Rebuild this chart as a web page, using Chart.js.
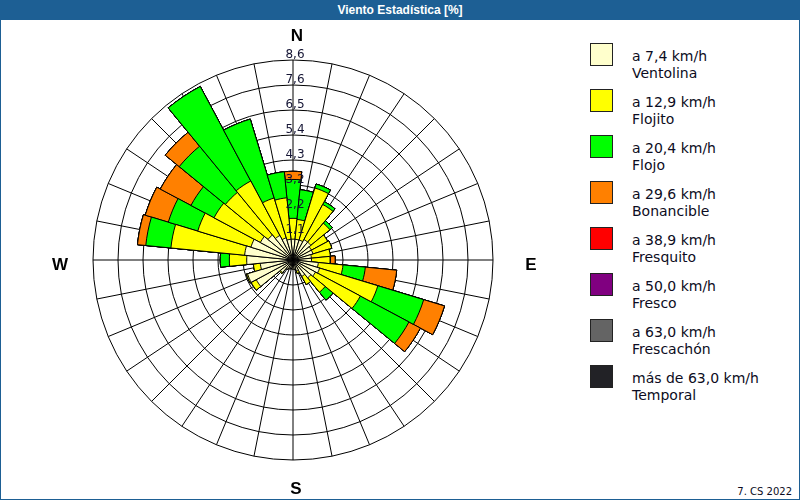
<!DOCTYPE html>
<html>
<head>
<meta charset="utf-8">
<script src="https://cdn.jsdelivr.net/npm/chart.js@4.4.0/dist/chart.umd.min.js"></script>
<style>
  body { margin: 0; background: #fff; }
  #marco { position: relative; width: 800px; height: 500px; overflow: hidden; background: #fff; font-family: "DejaVu Sans", sans-serif; }
  #titulo { position: absolute; left: 0; top: 0; width: 800px; height: 20px; background: #1d5f94; color: #fff;
            font: bold 12px "Liberation Sans Narrow", "Liberation Sans", sans-serif; text-align: center; line-height: 20px; }
  #borde { position: absolute; left: 0; top: 0; width: 798px; height: 498px; border: 1px solid #1d5f94; pointer-events: none; }
  #grafico { position: absolute; left: 0; top: 20px; }
  #leyenda { position: absolute; left: 590px; top: 43px; }
  .item { position: relative; height: 46px; }
  .caja { position: absolute; left: 0; top: 0; width: 21px; height: 21px; border: 1px solid #222; }
  .txt { position: absolute; left: 42px; top: 5px; font-size: 14px; line-height: 17.3px; color: #0c0c22; white-space: nowrap; }
  #pie { position: absolute; right: 8px; bottom: 3px; font-size: 10px; color: #0c0c22; }
</style>
</head>
<body>
<div id="marco">
  <div id="titulo">Viento Estadística [%]</div>
  <canvas id="grafico" width="560" height="480"></canvas>
  <div id="leyenda"></div>
  <div id="pie">7. CS 2022</div>
  <div id="borde"></div>
</div>
<script>
// 32 direcciones, desde N en sentido horario
const direcciones = ["N", "NxE", "NNE", "NExN", "NE", "NExE", "ENE", "ExN",
  "E", "ExS", "ESE", "SExE", "SE", "SExS", "SSE", "SxE",
  "S", "SxW", "SSW", "SWxS", "SW", "SWxW", "WSW", "WxS",
  "W", "WxN", "WNW", "NWxW", "NW", "NWxN", "NNW", "NxW"];

const ventolina  = [0.9, 0.9, 0.9, 1.0, 1.0, 0.9, 0.9, 0.8, 0.8, 1.1, 1.2, 1.1, 1.0, 0.8, 0.5, 0.4,
                    0.4, 0.35, 0.4, 0.45, 0.7, 1.8, 2.05, 1.42, 2.0, 2.1, 1.9, 1.6, 1.4, 1.2, 1.0, 0.9];
const flojito    = [0.9, 0.86, 2.35, 1.72, 1.06, 0.8, 0.85, 0.82, 0.8, 1.07, 2.63, 2.2, 0.8, 0.4, 0.1, 0,
                    0, 0, 0, 0, 0.05, 0.25, 0.05, 0.3, 0.75, 3.2, 2.4, 2.27, 2.38, 2.67, 1.8, 1.8];
const flojo      = [1.68, 1.29, 0.18, 0.14, 0.14, 0, 0, 0, 0.02, 0.97, 2.07, 2.38, 0.44, 0, 0, 0,
                    0, 0, 0, 0, 0, 0, 0, 0, 0.39, 1.09, 1.33, 1.13, 2.58, 4.63, 3.56, 1.13];
const bonancible = [0.35, 0, 0, 0, 0, 0, 0, 0, 0.2, 1.36, 0.94, 0.56, 0, 0, 0, 0,
                    0, 0, 0, 0, 0, 0, 0, 0, 0, 0.36, 1.04, 1.5, 0.78, 0, 0, 0];
const fresquito  = [0, 0, 0, 0, 0, 0, 0, 0, 0, 0, 0, 0, 0, 0, 0, 0, 0, 0, 0, 0, 0, 0, 0, 0, 0, 0, 0, 0, 0, 0, 0, 0];
const fresco     = [0, 0, 0, 0, 0, 0, 0, 0, 0, 0, 0, 0, 0, 0, 0, 0, 0, 0, 0, 0, 0, 0, 0, 0, 0, 0, 0, 0, 0, 0, 0, 0];
const frescachon = [0, 0, 0, 0, 0, 0, 0, 0, 0, 0, 0, 0, 0, 0, 0, 0, 0, 0, 0, 0, 0, 0, 0, 0, 0, 0, 0, 0, 0, 0, 0, 0];
const temporal   = [0, 0, 0, 0, 0, 0, 0, 0, 0, 0, 0, 0, 0, 0, 0, 0, 0, 0, 0, 0, 0, 0, 0, 0, 0, 0, 0, 0, 0, 0, 0, 0];

const rangos  = ["a 7,4 km/h", "a 12,9 km/h", "a 20,4 km/h", "a 29,6 km/h", "a 38,9 km/h", "a 50,0 km/h", "a 63,0 km/h", "más de 63,0 km/h"];
const nombres = ["Ventolina", "Flojito", "Flojo", "Bonancible", "Fresquito", "Fresco", "Frescachón", "Temporal"];
const colores = ["#ffffcc", "#ffff00", "#00ff00", "#ff8000", "#ff0000", "#800080", "#646464", "#222226"];

const escalaMax = 8.64;
const etiquetasEscala = ["1,1", "2,2", "3,2", "4,3", "5,4", "6,5", "7,6", "8,6"];

// leyenda
const leyenda = document.getElementById("leyenda");
nombres.forEach((n, i) => {
  leyenda.innerHTML += `<div class="item"><div class="caja" style="background:${colores[i]}"></div>
    <div class="txt">${rangos[i]}<br>${n}</div></div>`;
});

// apilado: cada serie se dibuja acumulada, la primera encima
const categorias = [ventolina, flojito, flojo, bonancible, fresquito, fresco, frescachon, temporal];
let acumulado = direcciones.map(() => 0);
const datasets = categorias.map((serie, j) => {
  acumulado = acumulado.map((v, i) => v + serie[i]);
  return {
    label: nombres[j],
    data: acumulado.slice(),
    backgroundColor: colores[j],
    borderColor: "#000",
    borderWidth: 1
  };
});

const rosaPlugin = {
  id: "rosa",
  beforeDatasetsDraw(chart) {
    const s = chart.scales.r, ctx = chart.ctx;
    const n = chart.data.labels.length;
    ctx.save();
    ctx.strokeStyle = "#000";
    ctx.lineWidth = 1;
    ctx.beginPath();
    for (let i = 0; i < n; i++) {
      const a = i * 2 * Math.PI / n - Math.PI / 2;
      ctx.moveTo(s.xCenter, s.yCenter);
      ctx.lineTo(s.xCenter + Math.cos(a) * s.drawingArea, s.yCenter + Math.sin(a) * s.drawingArea);
    }
    ctx.stroke();
    ctx.restore();
  },
  afterDatasetsDraw(chart) {
    const s = chart.scales.r, ctx = chart.ctx;
    const R = s.drawingArea;
    ctx.save();
    ctx.fillStyle = "#141434";
    ctx.font = "12px 'DejaVu Sans'";
    ctx.textAlign = "center";
    ctx.textBaseline = "alphabetic";
    s.ticks.forEach((t, i) => {
      if (i === 0) return;
      const d = s.getDistanceFromCenterForValue(t.value);
      ctx.fillText(etiquetasEscala[i - 1], s.xCenter + 2, s.yCenter - d - 2);
    });
    ctx.fillStyle = "#000";
    ctx.font = "bold 17px 'Liberation Sans'";
    ctx.textBaseline = "middle";
    ctx.fillText("N", s.xCenter + 4, s.yCenter - R - 24);
    ctx.fillText("S", s.xCenter + 3, s.yCenter + R + 29);
    ctx.fillText("W", s.xCenter - R - 33, s.yCenter + 5);
    ctx.fillText("E", s.xCenter + R + 38, s.yCenter + 5);
    ctx.restore();
  }
};

new Chart(document.getElementById("grafico"), {
  type: "polarArea",
  data: { labels: direcciones, datasets: datasets },
  options: {
    responsive: false,
    animation: false,
    layout: { padding: { left: 93, right: 67, top: 40, bottom: 40 } },
    plugins: { legend: { display: false }, tooltip: { enabled: false } },
    scales: {
      r: {
        min: 0,
        max: escalaMax,
        startAngle: -180 / direcciones.length,
        ticks: { display: false, count: 9 },
        grid: { circular: true, color: "#000", lineWidth: 1 },
        angleLines: { display: false },
        pointLabels: { display: false }
      }
    }
  },
  plugins: [rosaPlugin]
});
</script>
</body>
</html>
